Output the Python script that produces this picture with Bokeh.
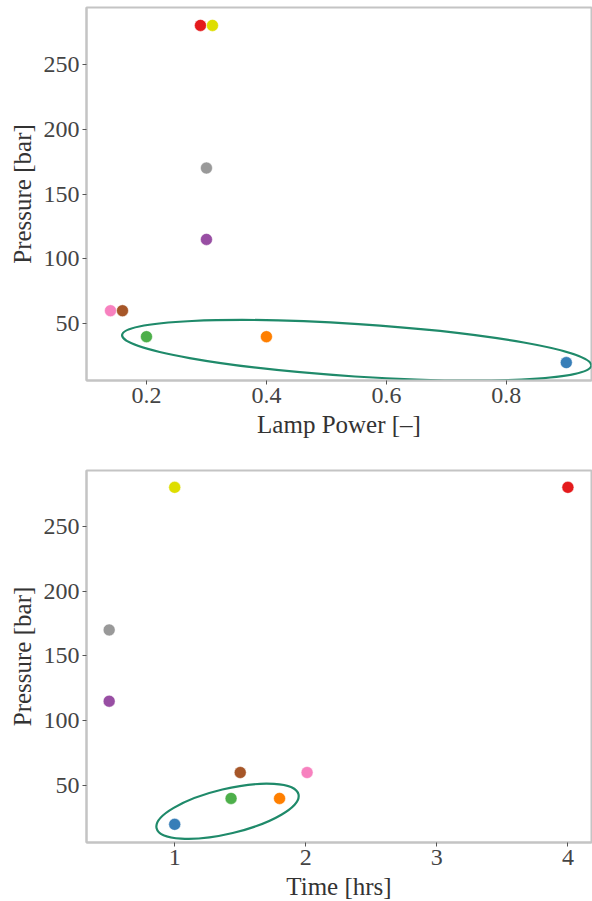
from bokeh.plotting import figure
from bokeh.layouts import column
from bokeh.models import FixedTicker
from bokeh.embed import file_html
from bokeh.resources import INLINE

# Data
colors = ["#e41a1c", "#dede00", "#999999", "#984ea3", "#f781bf", "#a65628",
          "#4daf4a", "#ff7f00", "#377eb8"]
pressure = [280, 280, 170, 115, 60, 60, 40, 40, 20]
lamp_power = [0.29, 0.31, 0.30, 0.30, 0.14, 0.16, 0.20, 0.40, 0.90]
time_hrs = [4.0, 1.0, 0.5, 0.5, 2.01, 1.5, 1.43, 1.80, 1.0]

y_ticks = [50, 100, 150, 200, 250]
x1_ticks = [0.2, 0.4, 0.6, 0.8]
x2_ticks = [1, 2, 3, 4]

# Highlight ellipses (center x, center y, width, height, angle rad)
ell1 = dict(x=0.5505, y=29.5, width=0.784, height=40.5, angle=-0.0646)
ell2 = dict(x=1.403, y=30.1, width=1.113, height=34.5, angle=0.234)

FONT = "serif"
ELL_COLOR = "#1f8a6a"


def style(p, xlabel, xticks):
    p.xaxis.axis_label = xlabel
    p.yaxis.axis_label = "Pressure [bar]"
    p.xaxis.ticker = FixedTicker(ticks=xticks)
    p.yaxis.ticker = FixedTicker(ticks=y_ticks)
    for ax in (p.xaxis, p.yaxis):
        ax.axis_label_text_font = FONT
        ax.axis_label_text_font_style = "normal"
        ax.axis_label_text_font_size = "25px"
        ax.axis_label_text_color = "#333333"
        ax.major_label_text_font = FONT
        ax.major_label_text_font_size = "24px"
        ax.major_label_text_color = "#444444"
        ax.axis_line_color = "#c4c4c4"
        ax.axis_line_width = 2
        ax.major_tick_line_color = "#555555"
        ax.major_tick_line_width = 1
        ax.major_tick_out = 4
        ax.major_tick_in = 0
        ax.minor_tick_line_color = None
        ax.axis_label_standoff = 5
        ax.major_label_standoff = 3
    p.xgrid.grid_line_color = None
    p.ygrid.grid_line_color = None
    p.outline_line_color = "#c4c4c4"
    p.outline_line_width = 2
    p.background_fill_color = "white"
    p.border_fill_color = "white"


p1 = figure(frame_width=505, frame_height=373, x_range=(0.1, 0.942),
            y_range=(6.2, 293.8), output_backend="svg", toolbar_location=None,
            min_border_left=86, min_border_right=1, min_border_top=7,
            min_border_bottom=83)
p1.ellipse(x=ell1["x"], y=ell1["y"], width=ell1["width"], height=ell1["height"],
           angle=ell1["angle"], fill_color=None, line_color=ELL_COLOR, line_width=2.2)
p1.scatter(lamp_power, pressure, size=12, fill_color=colors, line_color="white",
           line_width=0.5)
style(p1, "Lamp Power [–]", x1_ticks)

p2 = figure(frame_width=505, frame_height=372, x_range=(0.327, 4.18),
            y_range=(6.0, 293.0), output_backend="svg", toolbar_location=None,
            min_border_left=86, min_border_right=1, min_border_top=7,
            min_border_bottom=52)
p2.ellipse(x=ell2["x"], y=ell2["y"], width=ell2["width"], height=ell2["height"],
           angle=ell2["angle"], fill_color=None, line_color=ELL_COLOR, line_width=2.2)
p2.scatter(time_hrs, pressure, size=12, fill_color=colors, line_color="white",
           line_width=0.5)
style(p2, "Time [hrs]", x2_ticks)

layout = column(p1, p2, spacing=0)
open("out.html", "w").write(file_html(layout, INLINE))
